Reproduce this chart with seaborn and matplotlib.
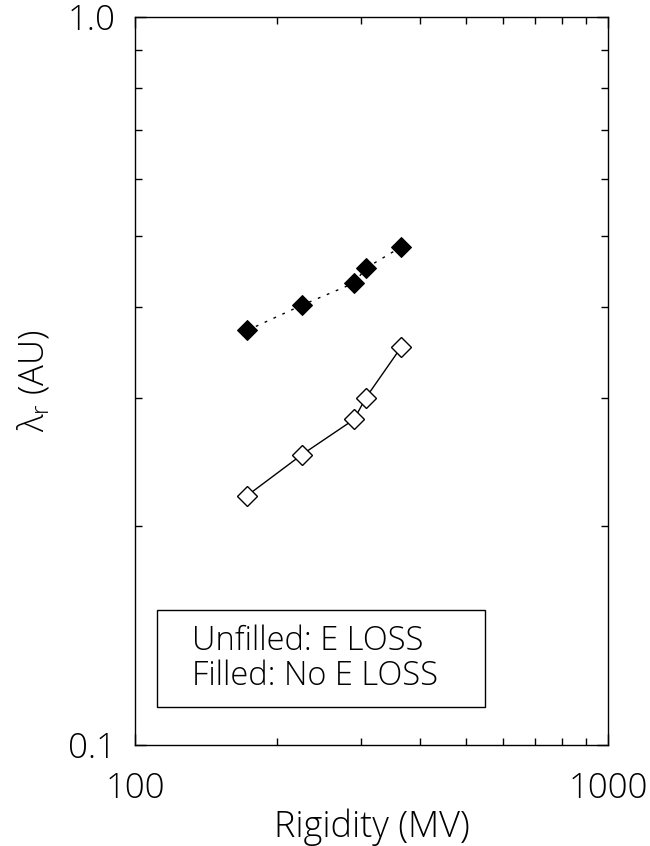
import numpy as np
import pandas as pd
import matplotlib
matplotlib.use("Agg")
import matplotlib.pyplot as plt
import seaborn as sns
from matplotlib.patches import Rectangle
from matplotlib.ticker import LogLocator, NullFormatter, FixedFormatter, FixedLocator

# Rigidity (MV) and radial mean free path (AU)
rigidity = [172.5, 225.5, 290.4, 307.8, 365.0]
lambda_eloss = [0.220, 0.2506, 0.280, 0.300, 0.3516]     # unfilled
lambda_no_eloss = [0.371, 0.402, 0.431, 0.452, 0.483]    # filled

df = pd.DataFrame({"rigidity": rigidity, "eloss": lambda_eloss, "noeloss": lambda_no_eloss})

sns.set_theme(style="ticks")
plt.rcParams["font.family"] = ["Open Sans", "DejaVu Sans"]
plt.rcParams["font.weight"] = "light"
plt.rcParams["axes.labelweight"] = "light"
plt.rcParams["text.color"] = "black"
plt.rcParams["axes.labelcolor"] = "black"
plt.rcParams["xtick.color"] = "black"
plt.rcParams["ytick.color"] = "black"
plt.rcParams["mathtext.fontset"] = "custom"
plt.rcParams["mathtext.rm"] = "Open Sans:light"

fig = plt.figure(figsize=(6.5, 8.46), dpi=100)
ax = fig.add_axes([135 / 650, 1 - 745 / 846, (608 - 135) / 650, (745 - 17) / 846])

sns.lineplot(data=df, x="rigidity", y="noeloss", ax=ax, color="black", lw=1.0,
             linestyle=(0, (2, 5)), marker="D", markersize=10,
             markerfacecolor="black", markeredgecolor="black")
sns.lineplot(data=df, x="rigidity", y="eloss", ax=ax, color="black", lw=1.0,
             marker="D", markersize=10, markerfacecolor="white",
             markeredgecolor="black", markeredgewidth=1.0)

ax.set_xscale("log")
ax.set_yscale("log")
ax.set_xlim(100, 1000)
ax.set_ylim(0.1, 1.0)

ax.xaxis.set_major_locator(FixedLocator([100, 1000]))
ax.xaxis.set_major_formatter(FixedFormatter(["100", "1000"]))
ax.xaxis.set_minor_locator(LogLocator(base=10, subs=np.arange(2, 10)))
ax.xaxis.set_minor_formatter(NullFormatter())
ax.yaxis.set_major_locator(FixedLocator([0.1, 1.0]))
ax.yaxis.set_major_formatter(FixedFormatter(["0.1", "1.0"]))
ax.yaxis.set_minor_locator(LogLocator(base=10, subs=np.arange(2, 10)))
ax.yaxis.set_minor_formatter(NullFormatter())

ax.tick_params(which="both", direction="in", top=True, right=True, color="black", width=1.0)
ax.tick_params(which="major", length=8, labelsize=25)
ax.tick_params(which="minor", length=5)
ax.tick_params(axis="x", which="major", pad=19)
ax.tick_params(axis="y", which="major", pad=14)
for s in ax.spines.values():
    s.set_color("black")
    s.set_linewidth(1.0)

ax.set_xlabel("Rigidity (MV)", fontsize=26, labelpad=2)
ax.set_ylabel(r"$\mathrm{\lambda_r}$ (AU)", fontsize=25, labelpad=11)

# legend-like note box
bx0, bx1 = (157 - 135) / 473, (485 - 135) / 473
by0, by1 = (745 - 707) / 728, (745 - 610) / 728
ax.add_patch(Rectangle((bx0, by0), bx1 - bx0, by1 - by0, transform=ax.transAxes,
                       fill=False, ec="black", lw=1.0))
ax.text((192 - 135) / 473, (745 - 641) / 728, "Unfilled: E LOSS", transform=ax.transAxes,
        fontsize=23.5, va="center", ha="left")
ax.text((192 - 135) / 473, (745 - 676) / 728, "Filled: No E LOSS", transform=ax.transAxes,
        fontsize=23.5, va="center", ha="left")

fig.savefig("out.png", dpi=100)
